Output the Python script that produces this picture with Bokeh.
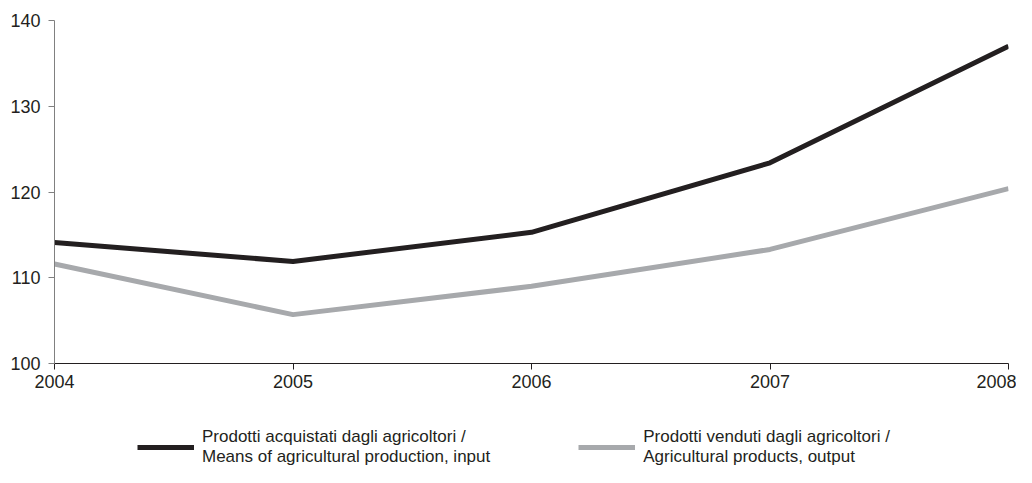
from bokeh.plotting import figure
from bokeh.models import Range1d, Legend, LegendItem, FixedTicker
from bokeh.layouts import column
from bokeh.embed import file_html
from bokeh.resources import INLINE

years = [2004, 2005, 2006, 2007, 2008]
input_vals = [114.1, 111.9, 115.3, 123.4, 137.0]
output_vals = [111.6, 105.7, 109.0, 113.3, 120.4]
label_input = "Prodotti acquistati dagli agricoltori /\nMeans of agricultural production, input"
label_output = "Prodotti venduti dagli agricoltori /\nAgricultural products, output"
y_ticks = [100, 110, 120, 130, 140]

FONT = "Liberation Sans"
BLACK = "#231f20"
GRAY = "#a7a9ac"

p = figure(width=1016, height=398, output_backend="svg", toolbar_location=None,
           x_range=Range1d(2004, 2008), y_range=Range1d(100, 140),
           min_border_left=54, min_border_right=8, min_border_top=20,
           min_border_bottom=35)
p.outline_line_color = None
p.grid.visible = False

p.line(years, input_vals, line_color=BLACK, line_width=5)
p.line(years, output_vals, line_color=GRAY, line_width=5)

p.xaxis.ticker = FixedTicker(ticks=years)
p.yaxis.ticker = FixedTicker(ticks=y_ticks)
for ax in (p.xaxis[0], p.yaxis[0]):
    ax.major_label_text_font = FONT
    ax.major_label_text_font_size = "18px"
    ax.major_label_text_color = BLACK
    ax.minor_tick_line_color = None
    ax.major_tick_in = 0
    ax.major_tick_out = 6
p.yaxis.axis_line_color = "#808080"
p.yaxis.major_tick_line_color = "#808080"
p.yaxis.major_label_standoff = 8
p.xaxis.axis_line_color = BLACK
p.xaxis.major_tick_line_color = BLACK
p.xaxis.major_label_standoff = 5

# legend figure (lines lie outside its ranges; only the legend is visible)
lg = figure(width=1016, height=69, output_backend="svg", toolbar_location=None,
            x_range=Range1d(0, 1), y_range=Range1d(0, 1),
            x_axis_location=None, y_axis_location=None,
            min_border_left=0, min_border_right=0, min_border_top=0, min_border_bottom=0)
lg.outline_line_color = None
lg.grid.visible = False
r1 = lg.line(years, input_vals, line_color=BLACK, line_width=5)
r2 = lg.line(years, output_vals, line_color=GRAY, line_width=5)

legend = Legend(items=[LegendItem(label=label_input, renderers=[r1]),
                       LegendItem(label=label_output, renderers=[r2])],
                orientation="horizontal", location=(83, 0),
                glyph_width=57, label_text_font=FONT, label_text_font_size="17px",
                label_text_line_height=1.3,
                label_text_color=BLACK, spacing=88, border_line_color=None,
                background_fill_alpha=0,
                margin=0, padding=0, label_standoff=8)
lg.add_layout(legend, "center")

layout = column(p, lg, spacing=0)
open("out.html", "w").write(file_html(layout, INLINE))
